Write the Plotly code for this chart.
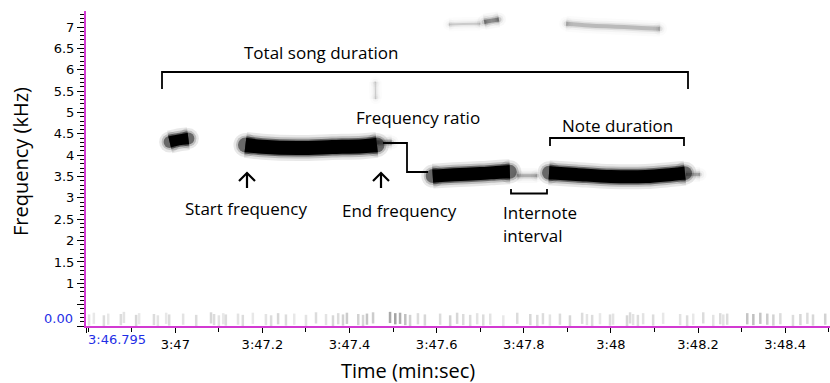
import plotly.graph_objects as go

# ---------------- data (time in seconds from 0:00, frequency in kHz) ----------------
X_START = 226.795          # 3:46.795
X_END = 228.503
Y_MAX = 7.377

# song notes: time samples and frequency contour
note1_t = [226.987, 227.000, 227.016, 227.030]
note1_f = [4.31, 4.34, 4.37, 4.39]
note2_t = [227.161, 227.20, 227.28, 227.36, 227.43, 227.463]
note2_f = [4.24, 4.20, 4.17, 4.19, 4.21, 4.24]
note3_t = [227.591, 227.64, 227.70, 227.745, 227.768]
note3_f = [3.51, 3.54, 3.57, 3.60, 3.61]
note4_t = [227.858, 227.92, 228.00, 228.08, 228.14, 228.170]
note4_f = [3.59, 3.55, 3.50, 3.50, 3.55, 3.58]

# faint tails / harmonics
tail2_t = [227.463, 227.497]
tail2_f = [4.30, 4.30]
tail3_t = [227.785, 227.831]
tail3_f = [3.52, 3.52]
tail4_t = [228.172, 228.205]
tail4_f = [3.55, 3.55]
harmA_t = [227.628, 227.66, 227.70]
harmA_f = [7.06, 7.07, 7.08]
harmB_t = [227.709, 227.725, 227.743]
harmB_f = [7.12, 7.15, 7.18]
harmC_t = [227.897, 227.95, 228.01, 228.07, 228.113]
harmC_f = [7.08, 7.04, 7.01, 6.98, 6.96]
streak_t = [227.459, 227.460]
streak_f = [5.72, 5.32]

# low-frequency background noise specks
noise_t = [226.802, 226.813, 226.836, 226.846, 226.875, 226.882, 226.910, 226.917, 226.951, 226.960,
           226.979, 226.986, 227.018, 227.048, 227.082, 227.089, 227.100, 227.110, 227.116, 227.144,
           227.155, 227.178, 227.208, 227.220, 227.236, 227.254, 227.273, 227.300, 227.323, 227.346,
           227.362, 227.374, 227.385, 227.394, 227.420, 227.431, 227.440, 227.454, 227.493, 227.505,
           227.516, 227.528, 227.539, 227.557, 227.573, 227.608, 227.631, 227.647, 227.661, 227.677,
           227.693, 227.707, 227.723, 227.753, 227.785, 227.815, 227.831, 227.844, 227.860, 227.883,
           227.906, 227.934, 227.945, 227.957, 227.975, 227.998, 228.005, 228.037, 228.044, 228.051,
           228.062, 228.074, 228.097, 228.120, 228.159, 228.175, 228.189, 228.212, 228.235, 228.251,
           228.258, 228.267, 228.313, 228.327, 228.343, 228.359, 228.373, 228.389, 228.418, 228.435,
           228.451, 228.464, 228.492]
noise_f = [0.14, 0.18, 0.12, 0.16, 0.15, 0.20, 0.13, 0.17, 0.15, 0.12,
           0.18, 0.14, 0.16, 0.13, 0.19, 0.15, 0.12, 0.17, 0.14, 0.16,
           0.13, 0.18, 0.15, 0.12, 0.17, 0.14, 0.16, 0.13, 0.19, 0.15,
           0.12, 0.17, 0.14, 0.18, 0.15, 0.13, 0.16, 0.19, 0.20, 0.17,
           0.18, 0.15, 0.13, 0.17, 0.14, 0.16, 0.12, 0.18, 0.15, 0.13,
           0.17, 0.14, 0.16, 0.12, 0.18, 0.15, 0.13, 0.17, 0.14, 0.16,
           0.12, 0.18, 0.15, 0.13, 0.17, 0.14, 0.16, 0.12, 0.19, 0.15,
           0.13, 0.17, 0.14, 0.18, 0.15, 0.12, 0.16, 0.19, 0.13, 0.17,
           0.14, 0.16, 0.17, 0.15, 0.18, 0.16, 0.14, 0.17, 0.13, 0.15,
           0.18, 0.14, 0.16]
noise_level = [0.25, 0.20, 0.30, 0.20, 0.30, 0.25, 0.35, 0.20, 0.30, 0.25,
               0.20, 0.30, 0.25, 0.30, 0.35, 0.30, 0.25, 0.20, 0.30, 0.25,
               0.30, 0.20, 0.25, 0.30, 0.35, 0.30, 0.20, 0.25, 0.30, 0.25,
               0.35, 0.30, 0.40, 0.45, 0.40, 0.35, 0.50, 0.45, 0.75, 0.80,
               0.70, 0.55, 0.40, 0.30, 0.35, 0.30, 0.40, 0.35, 0.30, 0.30,
               0.25, 0.30, 0.25, 0.20, 0.30, 0.35, 0.30, 0.30, 0.25, 0.30,
               0.35, 0.30, 0.25, 0.30, 0.20, 0.30, 0.25, 0.35, 0.30, 0.25,
               0.30, 0.25, 0.30, 0.20, 0.25, 0.30, 0.20, 0.30, 0.25, 0.30,
               0.25, 0.30, 0.50, 0.55, 0.50, 0.45, 0.40, 0.30, 0.30, 0.35,
               0.30, 0.35, 0.40]

x_tickvals = [227.0, 227.2, 227.4, 227.6, 227.8, 228.0, 228.2, 228.4]
x_ticktext = ["3:47", "3:47.2", "3:47.4", "3:47.6", "3:47.8", "3:48", "3:48.2", "3:48.4"]
y_tickvals = [0, 0.5, 1, 1.5, 2, 2.5, 3, 3.5, 4, 4.5, 5, 5.5, 6, 6.5, 7]
y_ticktext = ["", "", "1", "1.5", "2", "2.5", "3", "3.5", "4", "4.5", "5", "5.5", "6", "6.5", "7"]

# ---------------- layout geometry ----------------
W, H = 830, 383
L, R, T, B = 86, 0, 11, 57
PW, PH = W - L - R, H - T - B
MAG = "#d23ad2"
BLUE = "#1f2fe6"
TXT_FONT = "Open Sans"
TICK_FONT = "DejaVu Sans"


def PX(px):
    return (px - L) / PW


def PY(py):
    return (H - B - py) / PH


fig = go.Figure()


def blob(t, f, w, dark=1.0):
    # translucent soft halo layers with rounded ends, then the core
    for extra, alpha in [(12, 0.09), (7, 0.18), (3, 0.45), (0, 1.0)]:
        c = f"rgba(0,0,0,{alpha * dark:.3f})"
        if extra > 0:
            fig.add_trace(go.Scatter(
                x=[t[0], t[-1]], y=[f[0], f[-1]], mode="markers", hoverinfo="skip",
                showlegend=False, marker=dict(size=w + extra - 2, color=c, line=dict(width=0))))
        fig.add_trace(go.Scatter(
            x=t, y=f, mode="lines", hoverinfo="skip", showlegend=False,
            line=dict(color=c, width=w + extra, shape="spline")))


# faint components first, so the main notes sit on top
blob(tail2_t, tail2_f, 4, 0.25)
blob(tail3_t, tail3_f, 3, 0.2)
blob(tail4_t, tail4_f, 3, 0.2)
blob(harmA_t, harmA_f, 2, 0.12)
blob(harmB_t, harmB_f, 4, 0.3)
blob(harmC_t, harmC_f, 4, 0.17)
blob(streak_t, streak_f, 1, 0.12)
blob(note1_t, note1_f, 11)
blob(note2_t, note2_f, 14)
blob(note3_t, note3_f, 13)
blob(note4_t, note4_f, 13)

fig.add_trace(go.Scatter(
    x=noise_t, y=noise_f, mode="markers", hoverinfo="skip", showlegend=False,
    marker=dict(symbol="line-ns", size=8,
                line=dict(width=2.5, color=[f"rgba(80,80,80,{0.65*v:.2f})" for v in noise_level]))))

# ---------------- annotation shapes ----------------
def path_shape(pts, width=1.8):
    d = ""
    for i, (x, y) in enumerate(pts):
        d += ("M " if i == 0 else " L ") + f"{PX(x):.5f},{PY(y):.5f}"
    return dict(type="path", path=d, xref="paper", yref="paper",
                line=dict(color="black", width=width))


shapes = [
    path_shape([(162, 89), (162, 72), (688, 72), (688, 89)]),
    path_shape([(550, 146), (550, 138), (684, 138), (684, 146)]),
    path_shape([(511, 189), (511, 193.5), (547, 193.5), (547, 189)]),
    path_shape([(383, 143), (407, 143), (407, 172), (428, 172)]),
]
for ax in (247, 381):
    shapes.append(path_shape([(ax, 188), (ax, 173)], 2.2))
    shapes.append(path_shape([(ax - 8, 181), (ax, 173), (ax + 8, 181)], 2.2))

annotations = []


def text(s, x, y, size=17, anchor="center", color="black", font=TXT_FONT, angle=0):
    annotations.append(dict(text=s, x=PX(x), y=PY(y), xref="paper", yref="paper",
                            xanchor=anchor, yanchor="middle", showarrow=False,
                            textangle=angle, font=dict(family=font, size=size, color=color)))


text("Total song duration", 321, 53)
text("Frequency ratio", 418, 117)
text("Start frequency", 246, 208)
text("End frequency", 399, 210)
text("Note duration", 617, 125)
text("Internote", 501, 213, anchor="left")
text("interval", 501, 235, anchor="left")
text("Time (min:sec)", 408, 370, size=20)
text("Frequency (kHz)", 20, 162, size=20, angle=-90)
text("0.00", 58, 318, size=13, color=BLUE, font=TICK_FONT)
text("3:46.795", 86, 339, size=13, color=BLUE, font=TICK_FONT, anchor="left")

fig.update_layout(
    width=W, height=H, margin=dict(l=L, r=R, t=T, b=B, pad=0),
    paper_bgcolor="white", plot_bgcolor="white",
    shapes=shapes, annotations=annotations, showlegend=False,
    xaxis=dict(range=[X_START, X_END], tickmode="array", tickvals=[X_START] + x_tickvals,
               ticktext=[""] + x_ticktext, ticks="outside", ticklen=5, tickcolor="black",
               tickwidth=1, showgrid=False, zeroline=False, showline=True, linecolor=MAG,
               linewidth=2, tickfont=dict(family=TICK_FONT, size=13, color="black"),
               minor=dict(tickmode="linear", tick0=227.0, dtick=0.1, ticks="outside",
                          ticklen=4, tickcolor="black", showgrid=False)),
    yaxis=dict(range=[0, Y_MAX], tickmode="array", tickvals=y_tickvals, ticktext=y_ticktext,
               ticks="outside", ticklen=7, tickcolor="black", tickwidth=1, showgrid=False,
               zeroline=False, showline=True, linecolor=MAG, linewidth=2,
               tickfont=dict(family=TICK_FONT, size=13, color="black"),
               minor=dict(tickmode="linear", tick0=0, dtick=0.1, ticks="outside",
                          ticklen=4, tickcolor="black", showgrid=False)),
)

fig.write_html("out.html", config={"displayModeBar": False},
               post_script="document.body.style.margin='0';document.body.style.overflow='hidden';")
